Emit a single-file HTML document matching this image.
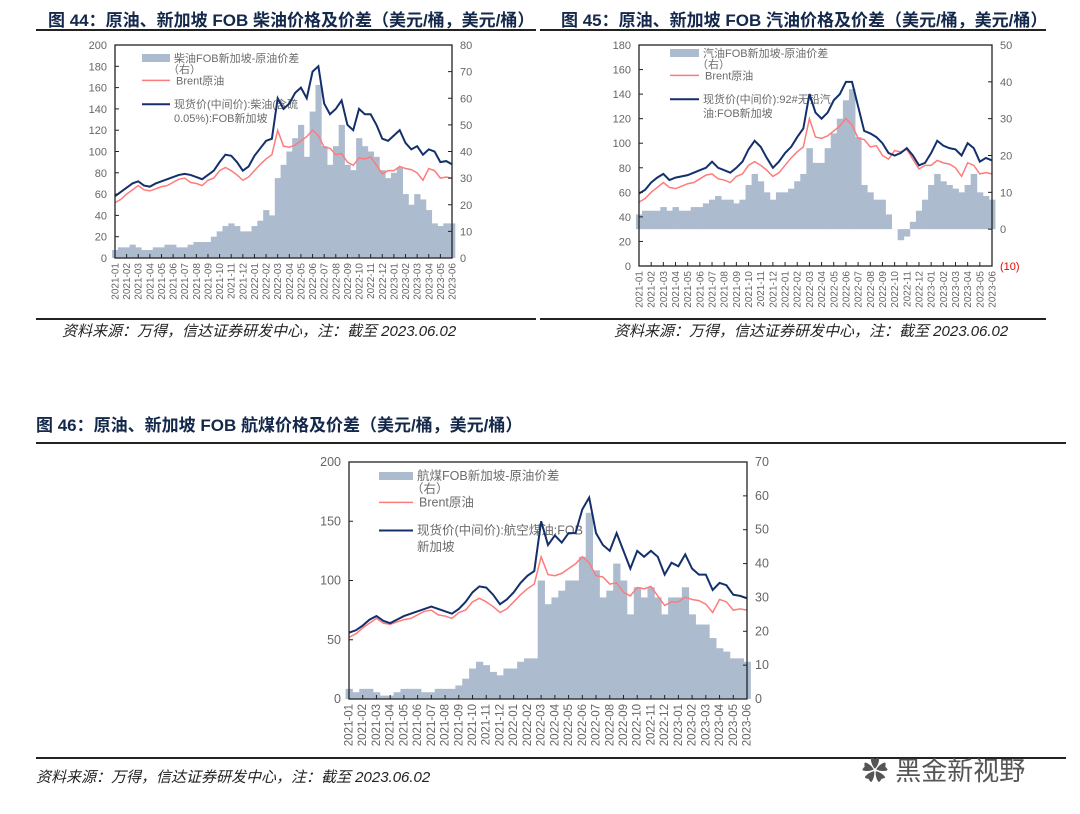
<!DOCTYPE html>
<html><head><meta charset="utf-8"><style>
body{margin:0;background:#fff;width:1080px;height:814px;overflow:hidden;position:relative;font-family:"Liberation Sans","Noto Sans CJK SC",sans-serif}
.t{position:absolute;font-weight:bold;font-size:17px;color:#14284b;white-space:nowrap}
.hr{position:absolute;height:2px;background:#222}
.src{position:absolute;font-style:italic;font-size:15px;color:#222;white-space:nowrap}
svg{position:absolute;left:0;top:0}
</style></head><body>
<div class="t" style="left:48px;top:6px">图 44：原油、新加坡 FOB 柴油价格及价差（美元/桶，美元/桶）</div>
<div class="hr" style="left:36px;top:29px;width:500px"></div>
<div class="t" style="left:561px;top:6px">图 45：原油、新加坡 FOB 汽油价格及价差（美元/桶，美元/桶）</div>
<div class="hr" style="left:540px;top:29px;width:506px"></div>
<div class="hr" style="left:36px;top:318px;width:500px"></div>
<div class="hr" style="left:540px;top:318px;width:506px"></div>
<div class="src" style="left:62px;top:320px">资料来源：万得，信达证券研发中心，注：截至 2023.06.02</div>
<div class="src" style="left:614px;top:320px">资料来源：万得，信达证券研发中心，注：截至 2023.06.02</div>
<div class="t" style="left:36px;top:411px">图 46：原油、新加坡 FOB 航煤价格及价差（美元/桶，美元/桶）</div>
<div class="hr" style="left:36px;top:442px;width:1030px"></div>
<div class="hr" style="left:36px;top:757px;width:1030px"></div>
<div class="src" style="left:36px;top:766px">资料来源：万得，信达证券研发中心，注：截至 2023.06.02</div>
<div style="position:absolute;left:862px;top:751px;font-size:26px;color:#555;white-space:nowrap">✿ 黑金新视野</div>
<svg id="svg" width="1080" height="814"></svg>
<script>
const months=[];for(let y=2021;y<=2023;y++)for(let m=1;m<=12;m++){if(y===2023&&m>6)break;months.push(y+'-'+String(m).padStart(2,'0'));}
const brent=[52,55,60,64,68,64,63,65,67,68,71,74,75,71,70,68,73,75,82,85,82,78,73,76,82,88,93,97,120,105,104,106,110,114,120,115,104,103,97,98,90,87,94,93,95,87,79,82,82,86,84,83,80,73,84,82,75,76,75];
const diesel=[58,62,66,70,72,68,67,70,72,74,76,78,79,78,76,74,78,82,90,97,96,90,82,86,96,103,110,112,150,140,145,155,160,150,175,180,145,135,140,148,125,120,140,135,135,125,112,110,115,120,108,102,105,97,102,100,90,91,88];
const dieselSpread=[3,4,4,5,4,3,3,4,4,5,5,4,4,5,6,6,6,8,10,12,13,12,10,10,12,14,18,16,30,35,40,45,50,38,55,65,42,35,42,50,35,33,45,42,40,38,33,30,32,34,24,20,24,22,18,13,12,13,13];
const gasoline=[59,62,68,72,75,70,72,73,74,76,78,80,85,80,78,76,80,85,95,102,97,88,80,85,92,97,105,112,140,125,120,125,135,140,150,150,130,110,108,105,100,92,90,92,96,90,82,84,92,102,98,96,95,90,100,96,85,88,86];
const gasSpread=[4,5,5,5,6,5,6,5,5,6,6,7,8,9,8,8,7,8,12,15,13,10,8,10,10,11,13,15,22,18,18,22,26,30,35,38,25,12,10,8,8,4,0,-3,-2,2,5,8,12,15,13,12,11,10,12,15,10,9,8];
const jet=[56,58,62,67,70,66,64,67,70,72,74,76,78,76,74,72,76,82,90,95,94,88,80,84,90,98,104,108,150,130,138,132,140,140,160,170,140,130,125,140,125,110,125,120,125,120,105,115,112,122,110,105,105,92,98,96,88,87,85];
const jetSpread=[3,2,3,3,2,1,1,2,3,3,3,2,2,3,3,3,4,6,9,11,10,8,7,9,9,11,12,12,35,28,30,32,35,35,42,55,38,30,32,40,35,25,33,30,33,30,25,30,30,33,25,22,22,18,15,14,12,12,11];
const leftTicks44=[0,20,40,60,80,100,120,140,160,180,200],rightTicks44=[0,10,20,30,40,50,60,70,80];
const leftTicks45=[0,20,40,60,80,100,120,140,160,180],rightTicks45=[-10,0,10,20,30,40,50];
const leftTicks46=[0,50,100,150,200],rightTicks46=[0,10,20,30,40,50,60,70];
const NS='http://www.w3.org/2000/svg',svg=document.getElementById('svg');
function mk(tag,at,parent){const e=document.createElementNS(NS,tag);for(const k in at)e.setAttribute(k,at[k]);(parent||svg).appendChild(e);return e;}
function txt(s,at,parent){const e=mk('text',at,parent);e.textContent=s;return e;}
function chart(id,L,R,T,B,lmin,lmax,lt,rmin,rmax,rt,spread,prod,leg,fs){
 const g=mk('g',{});
 
 
 const n=brent.length,W=R-L,H=B-T;
 const x=i=>L+i*W/(n-1),yl=v=>B-(v-lmin)/(lmax-lmin)*H,yr=v=>B-(v-rmin)/(rmax-rmin)*H;
 const lg=mk('g',{'font-size':fs,fill:'#6b6b6b'},g);
 
 
 const sw=mk('rect',{x:leg.x,y:leg.y-4,width:leg.w,height:8,fill:'#adbbcf'},lg);
 
 
 txt(leg.t1,{x:leg.x+leg.w+4,y:leg.y+4},lg);
 txt('（右）',{x:leg.x+leg.w-2,y:leg.y+4+leg.gap*0.8},lg);
 mk('line',{x1:leg.x,x2:leg.x+leg.w,y1:leg.y+leg.gap*1.6,y2:leg.y+leg.gap*1.6,stroke:'#ff7b7b','stroke-width':1.5},lg);
 txt('Brent原油',{x:leg.x+leg.w+6,y:leg.y+leg.gap*1.6+4},lg);
 mk('line',{x1:leg.x,x2:leg.x+leg.w,y1:leg.y+leg.gap*3.3,y2:leg.y+leg.gap*3.3,stroke:'#14306a','stroke-width':2},lg);
 txt(leg.t2,{x:leg.x+leg.w+4,y:leg.y+leg.gap*3.3+4},lg);
 txt(leg.t3,{x:leg.x+leg.w+4,y:leg.y+leg.gap*4.3+4},lg);
 const z=yr(Math.max(0,rmin)),bw=W/(n-1);
 spread.forEach((v,i)=>{const y=yr(v);const r=mk('rect',{x:x(i)-bw/2,y:Math.min(y,z),width:bw+0.4,height:Math.abs(z-y),fill:'#adbbcf'},g);
 
 });
 const pb=mk('polyline',{points:brent.map((v,i)=>x(i)+','+yl(v)).join(' '),fill:'none',stroke:'#ff7b7b','stroke-width':1.5},g);
 
 
 const pp=mk('polyline',{points:prod.map((v,i)=>x(i)+','+yl(v)).join(' '),fill:'none',stroke:'#14306a','stroke-width':2},g);
 
 
 mk('rect',{x:L,y:T,width:W,height:H,fill:'none',stroke:'#222','stroke-width':1.3},g);
 lt.forEach(v=>{mk('line',{x1:L,x2:L+4,y1:yl(v),y2:yl(v),stroke:'#222'},g);
  txt(v,{x:L-8,y:yl(v)+4,'text-anchor':'end','font-size':fs,fill:'#666'},g);});
 rt.forEach(v=>{mk('line',{x1:R-4,x2:R,y1:yr(v),y2:yr(v),stroke:'#222'},g);
  txt(v<0?'('+(-v)+')':v,{x:R+8,y:yr(v)+4,'font-size':fs,fill:v<0?'#e00':'#666'},g);});
 months.forEach((m,k)=>{const xx=L+k*W/(months.length-1);mk('line',{x1:xx,x2:xx,y1:B,y2:B-4,stroke:'#222'},g);
  txt(m,{x:xx+3.5,y:B+5,transform:`rotate(-90 ${xx+3.5} ${B+5})`,'text-anchor':'end','font-size':fs-1,fill:'#666'},g);});
}
chart('chart-44-diesel',115,452,45,258,0,200,leftTicks44,0,80,rightTicks44,dieselSpread,diesel,{x:142,y:58,w:28,gap:14,t1:'柴油FOB新加坡-原油价差',t2:'现货价(中间价):柴油(含硫',t3:'0.05%):FOB新加坡'},11);
chart('chart-45-gasoline',639,992,45,266,0,180,leftTicks45,-10,50,rightTicks45,gasSpread,gasoline,{x:670,y:53,w:29,gap:14,t1:'汽油FOB新加坡-原油价差',t2:'现货价(中间价):92#无铅汽',t3:'油:FOB新加坡'},11);
chart('chart-46-jet',349,747,462,699,0,200,leftTicks46,0,70,rightTicks46,jetSpread,jet,{x:379,y:476,w:34,gap:16.5,t1:'航煤FOB新加坡-原油价差',t2:'现货价(中间价):航空煤油:FOB',t3:'新加坡'},12.5);
</script>
</body></html>
